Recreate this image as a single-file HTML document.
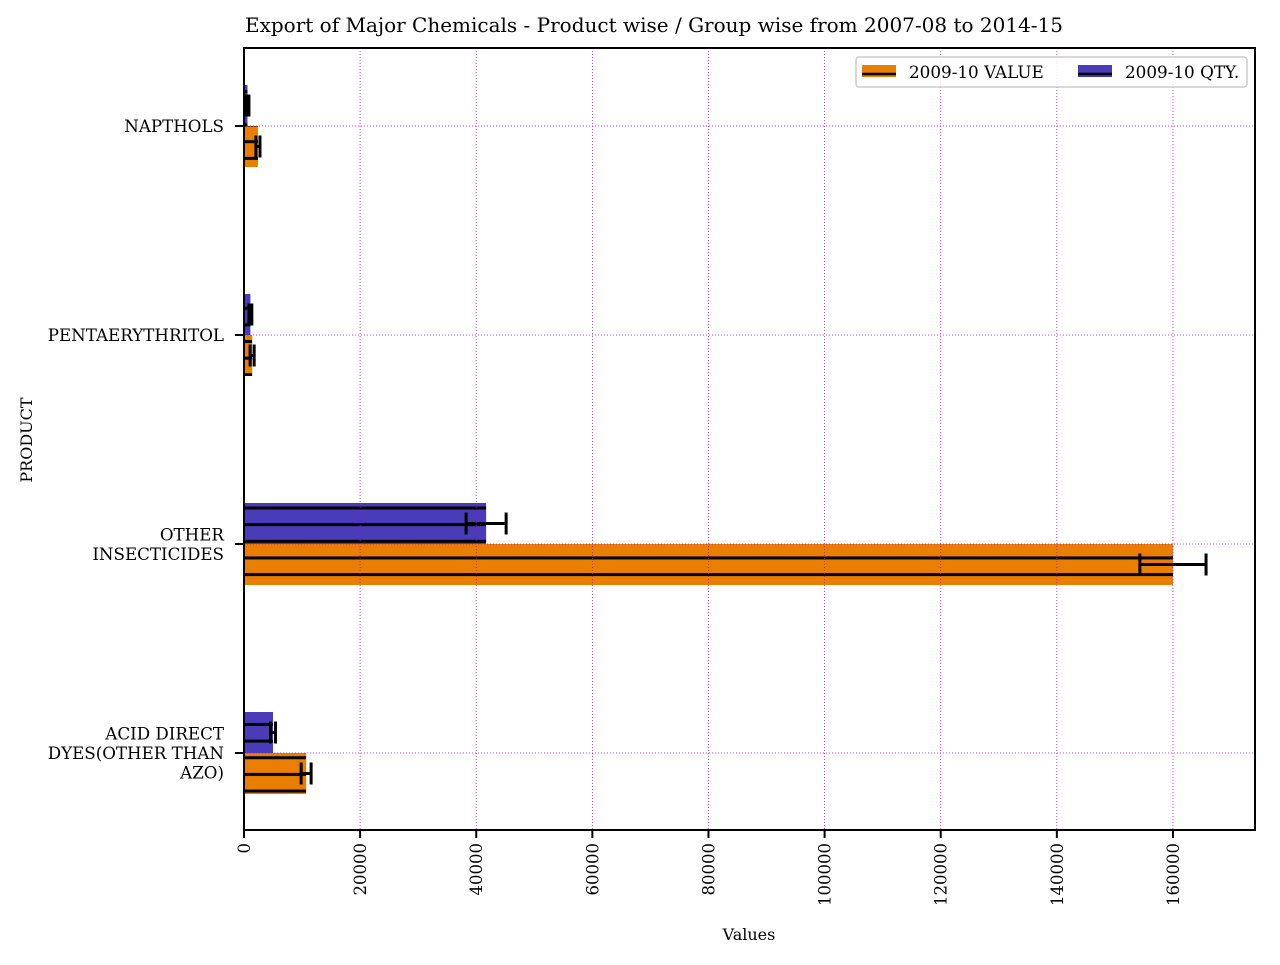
<!DOCTYPE html>
<html><head><meta charset="utf-8"><style>
body{margin:0;background:#fff}
svg text{font-family:"DejaVu Serif","Liberation Serif",serif;fill:#000}
</style></head><body>
<svg id="chart" width="1280" height="960" xmlns="http://www.w3.org/2000/svg">
<defs>
<pattern id="hatch" patternUnits="userSpaceOnUse" width="20" height="16.65" y="508">
<rect x="0" y="-1.5" width="20" height="3" fill="#000"/>
<rect x="0" y="15.15" width="20" height="3" fill="#000"/>
</pattern>
</defs>
<text x="654" y="32" font-size="20" text-anchor="middle">Export of Major Chemicals - Product wise / Group wise from 2007-08 to 2014-15</text>
<g id="grid"></g>
<g id="bars"></g>
<g id="axes"></g>
</svg>
<script>
const categories=["ACID DIRECT\nDYES(OTHER THAN\nAZO)","OTHER\nINSECTICIDES","PENTAERYTHRITOL","NAPTHOLS"];
const valueSeries=[10700,160000,1400,2400];
const valueErr=[860,5700,350,350];
const qtySeries=[5000,41700,1100,600];
const qtyErr=[430,3450,250,250];
const xTicks=[0,20000,40000,60000,80000,100000,120000,140000,160000];
const L=244,R=1255,T=48,B=830,XMAX=174130;
const NS="http://www.w3.org/2000/svg";
const xs=v=>L+v/XMAX*(R-L);
const ys=i=>753-i*209;
function mk(tag,attrs,parent){const e=document.createElementNS(NS,tag);for(const k in attrs)e.setAttribute(k,attrs[k]);parent.appendChild(e);return e;}
const svg=document.getElementById('chart');
const bars=document.getElementById('bars'),grid=document.getElementById('grid'),axes=document.getElementById('axes');
const bh=41;
categories.forEach((c,i)=>{
  const y=ys(i);
  let r=mk('rect',{x:L,y:y,width:xs(valueSeries[i])-L,height:bh,fill:'#e97e00'},bars);
  
  r=mk('rect',{x:L,y:y,width:xs(valueSeries[i])-L,height:bh,fill:'url(#hatch)'},bars);
  
  r=mk('rect',{x:L,y:y-bh,width:xs(qtySeries[i])-L,height:bh,fill:'#4a3bb8'},bars);
  
  r=mk('rect',{x:L,y:y-bh,width:xs(qtySeries[i])-L,height:bh,fill:'url(#hatch)'},bars);
  
  [[valueSeries[i],valueErr[i],y+bh/2],[qtySeries[i],qtyErr[i],y-bh/2]].forEach(([v,e,cy])=>{
    const g=mk('g',{stroke:'#000','stroke-width':3},bars);
    
    mk('line',{x1:xs(v-e),x2:xs(v+e),y1:cy,y2:cy},g);
    mk('line',{x1:xs(v-e),x2:xs(v-e),y1:cy-11,y2:cy+11},g);
    mk('line',{x1:xs(v+e),x2:xs(v+e),y1:cy-11,y2:cy+11},g);
  });
  const gl=mk('line',{x1:L,x2:R,y1:y,y2:y,stroke:'#c000e0','stroke-width':0.8,'stroke-dasharray':'1,2'},grid);
  
  mk('line',{x1:L-9,x2:L,y1:y,y2:y,stroke:'#000','stroke-width':2},axes);
  const lines=c.split('\n');
  const t=mk('text',{x:224,'font-size':16.7,'text-anchor':'end'},axes);
  
  lines.forEach((ln,j)=>{const s=mk('tspan',{x:224,y:y+6+(j-(lines.length-1)/2)*19.5},t);s.textContent=ln;});
});
xTicks.forEach(v=>{
  const x=xs(v);
  const gl=mk('line',{x1:x,x2:x,y1:T,y2:B,stroke:'#c000e0','stroke-width':0.8,'stroke-dasharray':'1,2'},grid);
  
  mk('line',{x1:x,x2:x,y1:B,y2:B+8,stroke:'#000','stroke-width':2},axes);
  const t=mk('text',{x:0,y:0,'font-size':16.5,'text-anchor':'end',transform:`translate(${x+6},${B+13}) rotate(-90)`},axes);
  
  t.textContent=v;
});
svg.insertBefore(grid,axes);
const frame=mk('rect',{x:L,y:T,width:R-L,height:B-T,fill:'none',stroke:'#000','stroke-width':2},axes);

let xt=mk('text',{x:749,y:940,'font-size':16,'text-anchor':'middle'},axes);
xt.textContent='Values';
let yt=mk('text',{x:0,y:0,'font-size':16,'text-anchor':'middle',transform:'translate(32,440) rotate(-90)'},axes);
yt.textContent='PRODUCT';
const lg=mk('g',{},axes);

mk('rect',{x:856,y:57,width:391,height:30,rx:3,fill:'#fff','fill-opacity':0.85,stroke:'#ccc','stroke-width':1.5},lg);
[['#e97e00','2009-10 VALUE',862],['#4a3bb8','2009-10 QTY.',1078]].forEach(([col,lab,x])=>{
  const e=mk('g',{},lg);
  
  mk('rect',{x:x,y:65,width:34,height:12,fill:col},e);
  mk('line',{x1:x,x2:x+34,y1:74,y2:74,stroke:'#000','stroke-width':2.5},e);
  const t=mk('text',{x:x+47,y:78,'font-size':16.8},e);t.textContent=lab;
});
</script>
</body></html>
